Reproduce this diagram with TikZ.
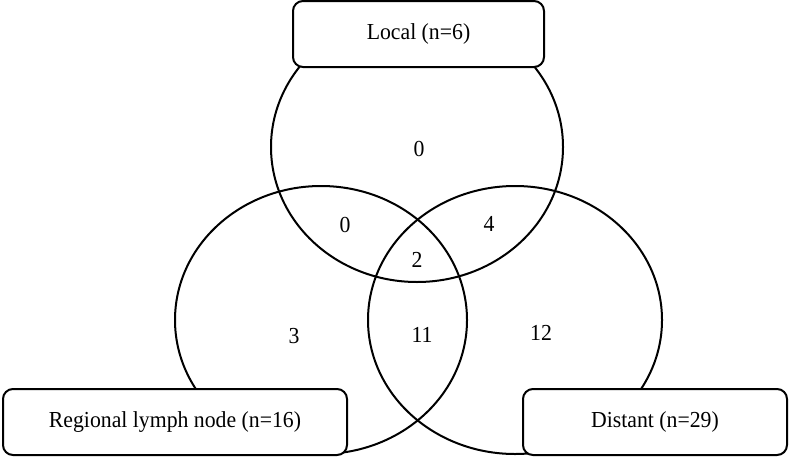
\documentclass[tikz,border=0pt]{standalone}
\usepackage{fontspec}
\setmainfont{Liberation Serif}[FakeStretch=0.95]
\tikzset{every picture/.style={line width=2pt}}

\begin{document}
\begin{tikzpicture}[x=1pt, y=-1pt, font=\fontsize{22.9}{27}\selectfont,
    setbox/.style={draw, fill=white, rounded corners=10pt, inner sep=0pt, minimum height=66pt}]
        \useasboundingbox (0,0) rectangle (789,458);
        % os três conjuntos (elipses quase circulares)
        \draw (417,147) ellipse [x radius=146pt, y radius=135pt];
        \draw (321,320) ellipse [x radius=146pt, y radius=134pt];
        \draw (515,320) ellipse [x radius=147pt, y radius=134pt];
        % contagens de cada região
        \node (onlyLocal) at (419,149) {0};
        \node (localRegional) at (345,225) {0};
        \node (localDistant) at (489,224) {4};
        \node (allThree) at (417,260) {2};
        \node (onlyRegional) at (294,336) {3};
        \node (regionalDistant) at (422,335) {11};
        \node (onlyDistant) at (541,333) {12};
        % rótulos dos conjuntos, por cima das elipses
        \node[setbox, minimum width=251pt] (local) at (418.5,34) {Local (n=6)};
        \node[setbox, minimum width=344pt] (regional) at (175,422) {Regional lymph node (n=16)};
        \node[setbox, minimum width=264pt] (distant) at (655,422) {Distant (n=29)};
    \end{tikzpicture}
\end{document}
